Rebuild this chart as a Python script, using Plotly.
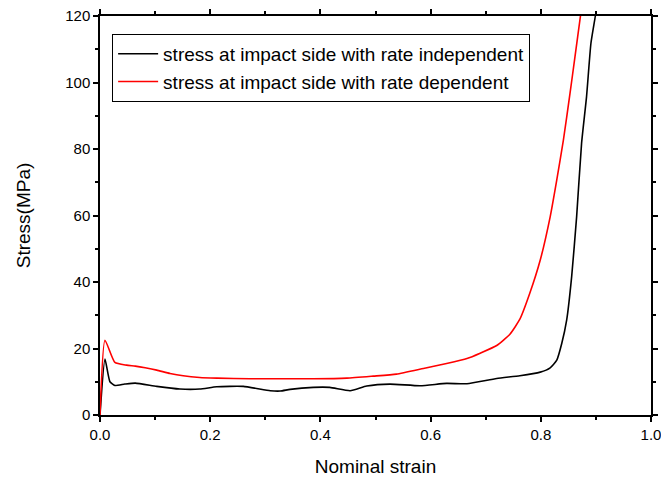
import plotly.graph_objects as go

# rate independent (black)
strain_ind = [0.0, 0.009, 0.018, 0.027, 0.045, 0.064, 0.103, 0.145, 0.181, 0.212, 0.26, 0.309, 0.327,
              0.345, 0.387, 0.417, 0.454, 0.484, 0.526, 0.581, 0.629, 0.666, 0.72, 0.762, 0.799,
              0.817, 0.829, 0.838, 0.847, 0.856, 0.865, 0.874, 0.883, 0.891, 0.899, 0.903]
stress_ind = [0.0, 16.8, 10.0, 8.9, 9.3, 9.6, 8.6, 7.8, 7.8, 8.5, 8.6, 7.3, 7.2,
              7.7, 8.3, 8.3, 7.3, 8.7, 9.3, 8.8, 9.5, 9.4, 11.0, 11.8, 12.9,
              14.2, 16.5, 21.5, 28.6, 41.6, 59.6, 81.7, 95.7, 111.8, 120.0, 125.0]

# rate dependent (red)
strain_dep = [0.0, 0.009, 0.027, 0.048, 0.064, 0.082, 0.103, 0.127, 0.151, 0.181, 0.212, 0.272,
              0.345, 0.387, 0.448, 0.496, 0.538, 0.587, 0.629, 0.666, 0.69, 0.72, 0.744, 0.762,
              0.78, 0.799, 0.817, 0.829, 0.841, 0.853, 0.862, 0.872, 0.876]
stress_dep = [0.0, 22.5, 15.8, 15.0, 14.7, 14.2, 13.5, 12.5, 11.8, 11.3, 11.1, 10.9,
              10.9, 10.9, 11.1, 11.7, 12.3, 14.0, 15.5, 17.0, 18.6, 20.9, 24.3, 28.8,
              36.6, 46.6, 59.6, 70.7, 82.7, 96.7, 107.7, 120.0, 125.0]

font = "Liberation Sans, Arial, sans-serif"

fig = go.Figure()
fig.add_trace(go.Scatter(x=strain_ind, y=stress_ind, mode="lines",
                         line=dict(color="black", width=1.6, shape="spline", smoothing=0.5),
                         name="stress at impact side with rate independent"))
fig.add_trace(go.Scatter(x=strain_dep, y=stress_dep, mode="lines",
                         line=dict(color="red", width=1.6, shape="spline", smoothing=0.5),
                         name="stress at impact side with rate dependent"))

axis_common = dict(showline=True, linecolor="black", linewidth=1.5, mirror="ticks",
                   ticks="outside", ticklen=5, tickwidth=1.5, tickcolor="black",
                   showgrid=False, zeroline=False, automargin=False,
                   ticklabeloverflow="allow",
                   tickfont=dict(family=font, size=15, color="black"))

fig.update_xaxes(range=[0, 1.0], dtick=0.2, tickformat=".1f",
                 minor=dict(dtick=0.1, ticks="outside", ticklen=3, tickwidth=1.5, tickcolor="black"),
                 title=dict(text="Nominal strain", font=dict(family=font, size=19, color="black"), standoff=18),
                 **axis_common)
fig.update_yaxes(range=[0, 120], dtick=20,
                 minor=dict(dtick=10, ticks="outside", ticklen=3, tickwidth=1.5, tickcolor="black"),
                 title=dict(text="Stress(MPa)", font=dict(family=font, size=19, color="black"), standoff=30),
                 **axis_common)

fig.update_layout(
    width=661, height=482,
    margin=dict(l=100, r=10, t=16, b=67),
    paper_bgcolor="white", plot_bgcolor="white",
    legend=dict(x=0.022, y=0.955, xanchor="left", yanchor="top",
                bgcolor="white", bordercolor="black", borderwidth=1,
                font=dict(family=font, size=19, color="black"),
                tracegroupgap=0, itemwidth=40),
    showlegend=True,
)

fig.write_html("out.html")
